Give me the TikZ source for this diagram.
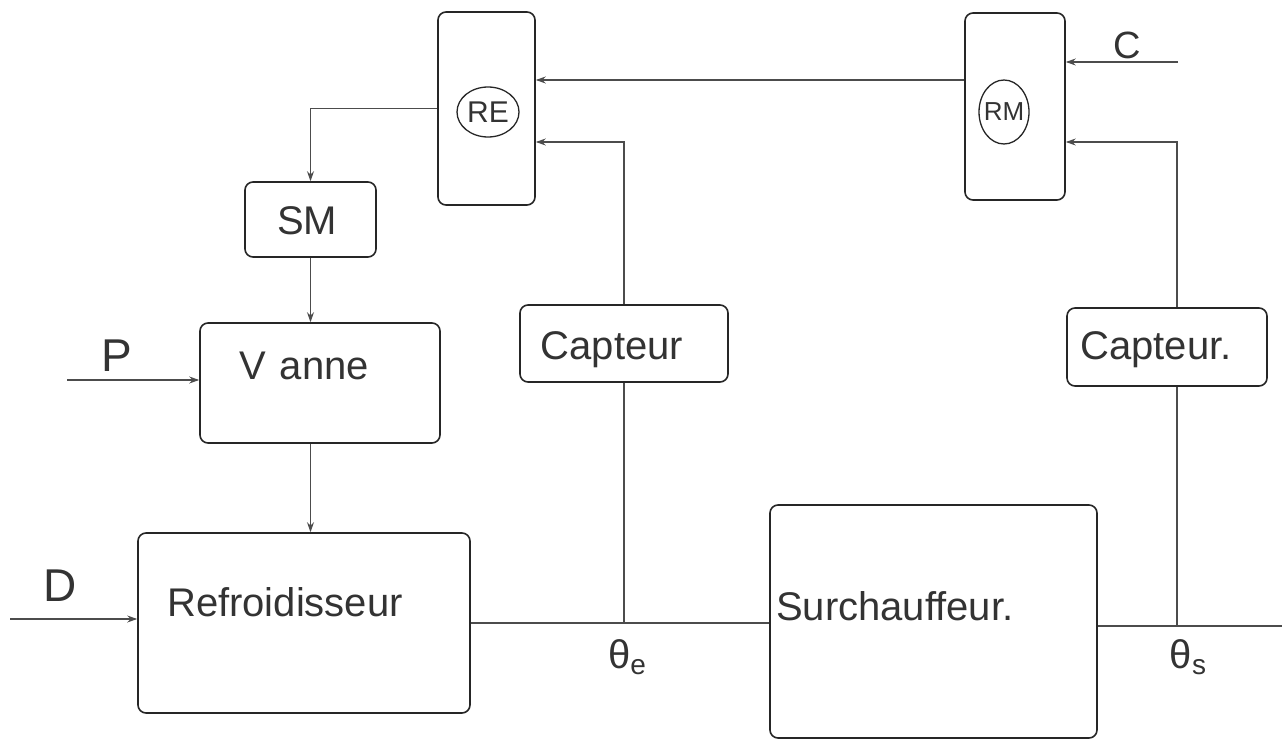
\documentclass[tikz,border=0pt]{standalone}
\usepackage{fontspec}
\setmainfont{Liberation Sans}
\usetikzlibrary{arrows.meta,shapes.geometric}
\tikzset{
  blk/.style={draw=black!85, line width=1.6pt, rounded corners=8pt, minimum width=#1, inner sep=0pt},
  circ/.style={draw=black!85, line width=1.3pt, ellipse, inner sep=0pt},
  conn/.style={draw=black!70, line width=1.1pt},
  arr/.style={conn, -{Stealth[length=10pt,width=7pt]}},
  txt/.style={text=black!80, inner sep=0pt, font=\fontsize{40}{46}\selectfont},
  lbl/.style={text=black!80, inner sep=0pt, font=\fontsize{46}{52}\selectfont}
}
\begin{document}
\begin{tikzpicture}[x=1pt,y=-1pt]
\useasboundingbox (0,0) rectangle (1282,741);
% blocks
\node[blk=97pt, minimum height=193pt] (re) at (486.5,108.5) {};
\node[circ, minimum width=62pt, minimum height=50pt] (rec) at (488,112) {};
\node[txt, font=\fontsize{30}{34}\selectfont] (ret) at (488,112) {RE};
\node[blk=100pt, minimum height=187pt] (rm) at (1015,106.5) {};
\node[circ, minimum width=50pt, minimum height=64pt] (rmc) at (1004,112) {};
\node[txt, font=\fontsize{26}{30}\selectfont] (rmt) at (1004,112) {RM};
\node[blk=131pt, minimum height=75pt] (sm) at (310.5,219.5) {};
\node[txt] (smt) at (307,221) {SM};
\node[blk=240pt, minimum height=120pt] (vanne) at (320,383) {};
\node[txt] (vannet) at (304,366) {V\hspace{14pt}anne};
\node[blk=332pt, minimum height=180pt] (refroid) at (304,623) {};
\node[txt] (refroidt) at (285,602) {Refroidisseur};
\node[blk=208pt, minimum height=77pt] (cap1) at (624,343.5) {};
\node[txt] (cap1t) at (612,350) {Capteur};
\node[blk=200pt, minimum height=78pt] (cap2) at (1167,347) {};
\node[txt] (cap2t) at (1156,350) {Capteur.};
\node[blk=327pt, minimum height=233pt] (surch) at (933.5,621.5) {};
\node[txt, anchor=west] (surcht) at (776,606) {Surchauffeur.};
% labels
\node[lbl] (dl) at (60,586) {D};
\node[lbl] (pl) at (117,356) {P};
\node[lbl, font=\fontsize{38}{42}\selectfont] (cl) at (1127,45) {C};
\node[txt] (thetae) at (627,657) {θ\raisebox{-6pt}{\fontsize{28}{30}\selectfont e}};
\node[txt] (thetas) at (1188,657) {θ\raisebox{-6pt}{\fontsize{28}{30}\selectfont s}};
% coordinates
\coordinate (d0) at (10,619);
\coordinate (p0) at (67,380);
\coordinate (c0) at (1178,62);
\coordinate (yA) at (0,80);
\coordinate (yB) at (0,142);
\coordinate (je) at (624,623);
\coordinate (js) at (1177,626);
\coordinate (out) at (1282,626);
% connectors
\draw[arr] (d0) -- (d0 -| refroid.west);
\draw[arr] (p0) -- (p0 -| vanne.west);
\draw[arr] (re.west) -| (sm.north);
\draw[arr] (sm.south) -- (sm.south |- vanne.north);
\draw[arr] (sm.south |- vanne.south) -- (sm.south |- refroid.north);
\draw[arr] (rm.west |- yA) -- (re.east |- yA);
\draw[arr] (cap1.north) |- (re.east |- yB);
\draw[arr] (c0) -- (c0 -| rm.east);
\draw[arr] (js |- cap2.north) |- (rm.east |- yB);
\draw[conn] (refroid.east |- je) -- (surch.west |- je);
\draw[conn] (je) -- (cap1.south);
\draw[conn] (surch.east |- js) -- (out);
\draw[conn] (js) -- (js |- cap2.south);
\end{tikzpicture}
\end{document}
